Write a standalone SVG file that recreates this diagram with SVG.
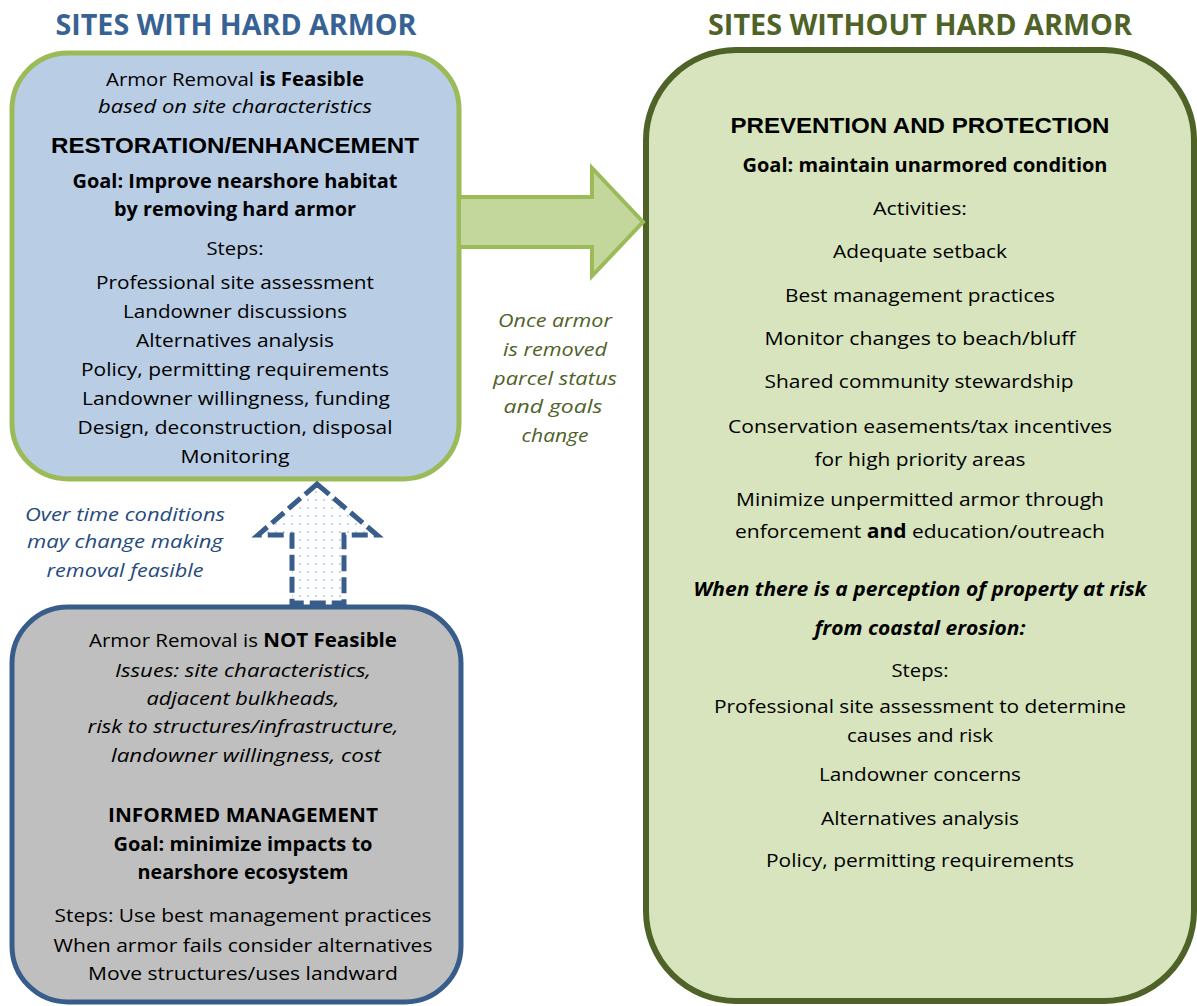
<svg xmlns="http://www.w3.org/2000/svg" width="1197" height="1006" viewBox="0 0 1197 1006">
<style>
.t{font-family:"Open Sans","Noto Sans",sans-serif;font-size:19px;fill:#000;text-anchor:middle}
.b{font-weight:bold}
.i{font-style:italic}
.h{font-family:"Liberation Sans",Arial,sans-serif;font-weight:bold;font-size:22px;fill:#000;text-anchor:middle}
.title{font-family:"Open Sans","Noto Sans",sans-serif;font-weight:bold;font-size:28px;text-anchor:middle}
.olive{fill:#4f6228}
.blue{fill:#254a7d}
</style>
<defs>
<pattern id="dots" width="8" height="8" patternUnits="userSpaceOnUse">
<rect width="8" height="8" fill="#ffffff"/>
<circle cx="4" cy="4" r="1.1" fill="#b9cde5"/>
</pattern>
</defs>
<rect width="1197" height="1006" fill="#ffffff"/>

<g id="title-with">
<text class="title" x="236" y="35" fill="#386294" textLength="361" lengthAdjust="spacingAndGlyphs">SITES WITH HARD ARMOR</text>
</g>
<g id="title-without">
<text class="title" x="920" y="35" fill="#4f6228" textLength="424" lengthAdjust="spacingAndGlyphs">SITES WITHOUT HARD ARMOR</text>
</g>

<g id="box-restoration">
<rect x="12" y="53" width="447" height="426" rx="56" ry="56" fill="#b9cde5" stroke="#9bbb59" stroke-width="5"/>
<text class="t" x="235" y="86" textLength="258" lengthAdjust="spacingAndGlyphs">Armor Removal <tspan class="b">is Feasible</tspan></text>
<text class="t i" x="235" y="113" textLength="274" lengthAdjust="spacingAndGlyphs">based on site characteristics</text>
<text class="h" x="235" y="153" textLength="368" lengthAdjust="spacingAndGlyphs">RESTORATION/ENHANCEMENT</text>
<text class="t b" x="235" y="188" textLength="325" lengthAdjust="spacingAndGlyphs">Goal: Improve nearshore habitat</text>
<text class="t b" x="235" y="216" textLength="242" lengthAdjust="spacingAndGlyphs">by removing hard armor</text>
<text class="t" x="235" y="255" textLength="57" lengthAdjust="spacingAndGlyphs">Steps:</text>
<text class="t" x="235" y="289" textLength="278" lengthAdjust="spacingAndGlyphs">Professional site assessment</text>
<text class="t" x="235" y="318" textLength="224" lengthAdjust="spacingAndGlyphs">Landowner discussions</text>
<text class="t" x="235" y="347" textLength="198" lengthAdjust="spacingAndGlyphs">Alternatives analysis</text>
<text class="t" x="235" y="376" textLength="308" lengthAdjust="spacingAndGlyphs">Policy, permitting requirements</text>
<text class="t" x="236" y="405" textLength="308" lengthAdjust="spacingAndGlyphs">Landowner willingness, funding</text>
<text class="t" x="235" y="434" textLength="315" lengthAdjust="spacingAndGlyphs">Design, deconstruction, disposal</text>
<text class="t" x="235" y="463" textLength="109" lengthAdjust="spacingAndGlyphs">Monitoring</text>
</g>

<g id="box-informed">
<rect x="12" y="607" width="449" height="395" rx="56" ry="56" fill="#bfbfbf" stroke="#385d8a" stroke-width="5"/>
<text class="t" x="243" y="647" textLength="308" lengthAdjust="spacingAndGlyphs">Armor Removal is <tspan class="b">NOT Feasible</tspan></text>
<text class="t i" x="243" y="677" textLength="256" lengthAdjust="spacingAndGlyphs">Issues: site characteristics,</text>
<text class="t i" x="243" y="705" textLength="193" lengthAdjust="spacingAndGlyphs">adjacent bulkheads,</text>
<text class="t i" x="243" y="733" textLength="311" lengthAdjust="spacingAndGlyphs">risk to structures/infrastructure,</text>
<text class="t i" x="246" y="762" textLength="270" lengthAdjust="spacingAndGlyphs">landowner willingness, cost</text>
<text class="t b" x="243" y="822" textLength="270" lengthAdjust="spacingAndGlyphs">INFORMED MANAGEMENT</text>
<text class="t b" x="243" y="851" textLength="259" lengthAdjust="spacingAndGlyphs">Goal: minimize impacts to</text>
<text class="t b" x="243" y="879" textLength="211" lengthAdjust="spacingAndGlyphs">nearshore ecosystem</text>
<text class="t" x="243" y="922" textLength="377" lengthAdjust="spacingAndGlyphs">Steps: Use best management practices</text>
<text class="t" x="243" y="952" textLength="379" lengthAdjust="spacingAndGlyphs">When armor fails consider alternatives</text>
<text class="t" x="243" y="980" textLength="310" lengthAdjust="spacingAndGlyphs">Move structures/uses landward</text>
</g>

<g id="box-prevention">
<rect x="646" y="50" width="548" height="951" rx="90" ry="90" fill="#d7e4bd" stroke="#4f6228" stroke-width="6"/>
<text class="h" x="920" y="133" textLength="379" lengthAdjust="spacingAndGlyphs">PREVENTION AND PROTECTION</text>
<text class="t b" x="925" y="172" textLength="365" lengthAdjust="spacingAndGlyphs">Goal: maintain unarmored condition</text>
<text class="t" x="920" y="215" textLength="94" lengthAdjust="spacingAndGlyphs">Activities:</text>
<text class="t" x="920" y="258" textLength="174" lengthAdjust="spacingAndGlyphs">Adequate setback</text>
<text class="t" x="920" y="302" textLength="270" lengthAdjust="spacingAndGlyphs">Best management practices</text>
<text class="t" x="920" y="345" textLength="311" lengthAdjust="spacingAndGlyphs">Monitor changes to beach/bluff</text>
<text class="t" x="919" y="388" textLength="309" lengthAdjust="spacingAndGlyphs">Shared community stewardship</text>
<text class="t" x="920" y="433" textLength="384" lengthAdjust="spacingAndGlyphs">Conservation easements/tax incentives</text>
<text class="t" x="920" y="466" textLength="211" lengthAdjust="spacingAndGlyphs">for high priority areas</text>
<text class="t" x="920" y="506" textLength="368" lengthAdjust="spacingAndGlyphs">Minimize unpermitted armor through</text>
<text class="t" x="920" y="538" textLength="370" lengthAdjust="spacingAndGlyphs">enforcement <tspan class="b">and</tspan> education/outreach</text>
<text class="t b i" x="920" y="596" textLength="453" lengthAdjust="spacingAndGlyphs">When there is a perception of property at risk</text>
<text class="t b i" x="920" y="635" textLength="211" lengthAdjust="spacingAndGlyphs">from coastal erosion:</text>
<text class="t" x="920" y="677" textLength="57" lengthAdjust="spacingAndGlyphs">Steps:</text>
<text class="t" x="920" y="713" textLength="412" lengthAdjust="spacingAndGlyphs">Professional site assessment to determine</text>
<text class="t" x="920" y="742" textLength="146" lengthAdjust="spacingAndGlyphs">causes and risk</text>
<text class="t" x="920" y="781" textLength="202" lengthAdjust="spacingAndGlyphs">Landowner concerns</text>
<text class="t" x="920" y="825" textLength="198" lengthAdjust="spacingAndGlyphs">Alternatives analysis</text>
<text class="t" x="920" y="867" textLength="308" lengthAdjust="spacingAndGlyphs">Policy, permitting requirements</text>
</g>

<g id="connectors">
<polygon id="arrow-status-change" points="459,197 592,197 592,168 643,222 592,276 592,247 459,247" fill="#c3d69b" stroke="#9bbb59" stroke-width="4" stroke-linejoin="miter"/>
<path id="arrow-conditions-change" d="M317,484 L377,535 L344,535 L344,603 L292,603 L292,535 L258,535 Z" fill="url(#dots)" stroke="#385d8a" stroke-width="5" stroke-dasharray="16 6"/>
</g>

<g id="label-once-removed">
<text class="t i olive" x="555" y="327" textLength="114" lengthAdjust="spacingAndGlyphs">Once armor</text>
<text class="t i olive" x="555" y="356" textLength="104" lengthAdjust="spacingAndGlyphs">is removed</text>
<text class="t i olive" x="555" y="385" textLength="124" lengthAdjust="spacingAndGlyphs">parcel status</text>
<text class="t i olive" x="553" y="413" textLength="99" lengthAdjust="spacingAndGlyphs">and goals</text>
<text class="t i olive" x="555" y="442" textLength="67" lengthAdjust="spacingAndGlyphs">change</text>
</g>

<g id="label-over-time">
<text class="t i blue" x="125" y="521" textLength="200" lengthAdjust="spacingAndGlyphs">Over time conditions</text>
<text class="t i blue" x="125" y="548" textLength="196" lengthAdjust="spacingAndGlyphs">may change making</text>
<text class="t i blue" x="125" y="577" textLength="157" lengthAdjust="spacingAndGlyphs">removal feasible</text>
</g>
</svg>
